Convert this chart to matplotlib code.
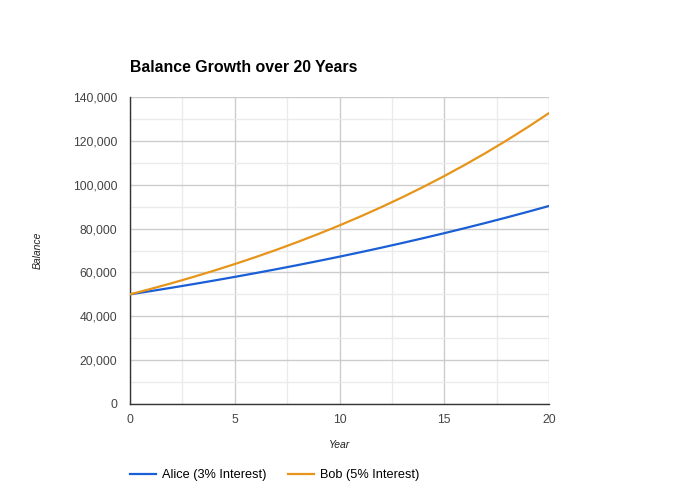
import numpy as np
import matplotlib
matplotlib.use('Agg')
import matplotlib.pyplot as plt
from matplotlib.ticker import MultipleLocator, FuncFormatter

plt.rcParams['font.family'] = ['Liberation Sans', 'DejaVu Sans']

years = list(range(21))
# balances
alice = [50000, 51500, 53045, 54636, 56275, 57964, 59703, 61494, 63339, 65239,
         67196, 69212, 71288, 73427, 75629, 77898, 80235, 82642, 85122, 87675, 90306]
bob   = [50000, 52500, 55125, 57881, 60775, 63814, 67005, 70355, 73873, 77566,
         81445, 85517, 89793, 94282, 98997, 103946, 109144, 114601, 120331, 126348, 132665]

fig = plt.figure(figsize=(6.8, 5), dpi=100)
ax = fig.add_axes([130/680, 96/500, 419/680, 307/500])

ax.plot(years, alice, color='#1a5fd6', lw=1.6, label='Alice (3% Interest)', zorder=3)
ax.plot(years, bob, color='#e6951a', lw=1.6, label='Bob (5% Interest)', zorder=3)

ax.set_xlim(0, 20)
ax.set_ylim(0, 140000)
ax.xaxis.set_major_locator(MultipleLocator(5))
ax.xaxis.set_minor_locator(MultipleLocator(2.5))
ax.yaxis.set_major_locator(MultipleLocator(20000))
ax.yaxis.set_minor_locator(MultipleLocator(10000))
ax.yaxis.set_major_formatter(FuncFormatter(lambda v, p: '{:,.0f}'.format(v)))
ax.grid(which='major', color='#cccccc', lw=1)
ax.grid(which='minor', color='#ebebeb', lw=1)
ax.set_axisbelow(True)
ax.tick_params(which='both', length=0, labelsize=8.7, colors='#444444')
ax.tick_params(axis='y', pad=9)
ax.tick_params(axis='x', pad=7)

for s in ['top', 'right']:
    ax.spines[s].set_visible(False)
for s in ['left', 'bottom']:
    ax.spines[s].set_color('#333333')
    ax.spines[s].set_linewidth(1)

ax.set_xlabel('Year', fontsize=7.5, style='italic', color='#222222')
ax.set_ylabel('Balance', fontsize=7.5, style='italic', color='#222222')
ax.xaxis.set_label_coords(0.5, -41/307, transform=ax.transAxes)
ax.yaxis.set_label_coords(-92/419, 0.5, transform=ax.transAxes)
ax.xaxis.label.set_va('center')
ax.yaxis.label.set_va('center')

fig.text(130/680, 1 - 67/500, 'Balance Growth over 20 Years', fontsize=11.4,
         fontweight='bold', va='center', ha='left')

fig.legend(loc='center left', bbox_to_anchor=(130/680, 1 - 475/500), ncol=2,
           frameon=False, fontsize=9.2, handlelength=2.0, columnspacing=1.7,
           handletextpad=0.5, borderpad=0, borderaxespad=0)

fig.savefig('out.png', dpi=100)
